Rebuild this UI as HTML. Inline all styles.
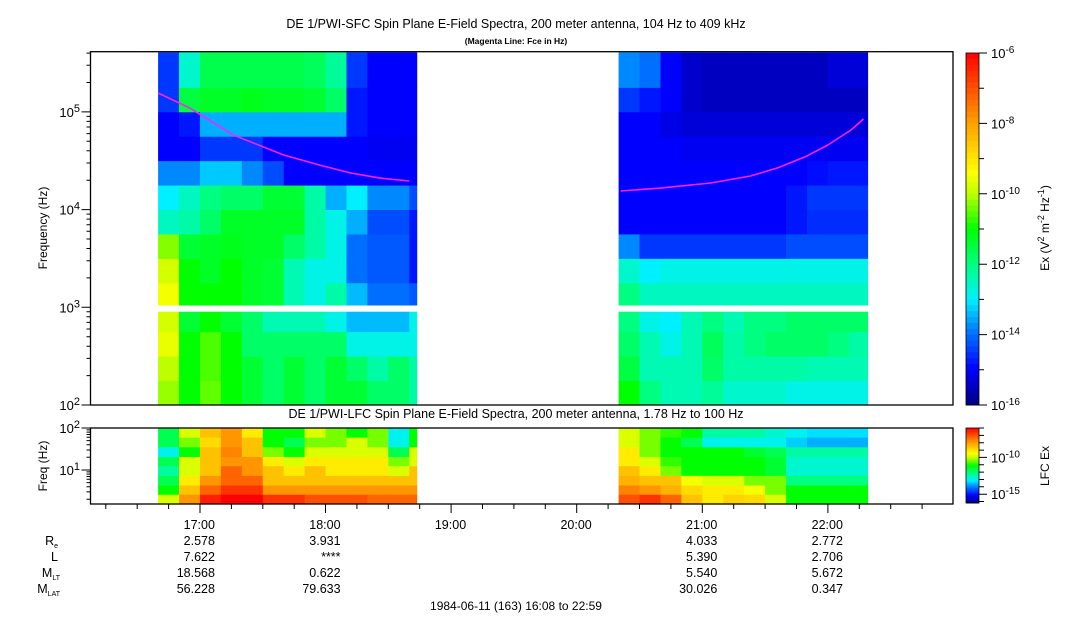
<!DOCTYPE html>
<html><head><meta charset="utf-8"><style>
html,body{margin:0;padding:0;background:#fff;}
svg{display:block;font-family:"Liberation Sans",Arial,sans-serif;}
</style></head><body>
<svg id="chart" width="1083" height="620" viewBox="0 0 1083 620">
<text x="516" y="28" font-size="12.5" text-anchor="middle">DE 1/PWI-SFC  Spin Plane E-Field Spectra, 200 meter antenna, 104 Hz to 409 kHz</text>
<text x="516" y="44" font-size="8.5" font-weight="bold" text-anchor="middle">(Magenta Line: Fce in Hz)</text>
<text x="516" y="418" font-size="12.5" text-anchor="middle">DE 1/PWI-LFC  Spin Plane E-Field Spectra, 200 meter antenna, 1.78 Hz to 100 Hz</text>
<g id="sfc"></g>
<g id="lfc"></g>
<g id="axes"></g>
<text transform="translate(47,228) rotate(-90)" font-size="12" text-anchor="middle">Frequency (Hz)</text>
<text transform="translate(47,466) rotate(-90)" font-size="12" text-anchor="middle">Freq (Hz)</text>
<text transform="translate(1049,228) rotate(-90)" font-size="12" text-anchor="middle">Ex (V<tspan dy="-5" font-size="9">2</tspan><tspan dy="5"> m</tspan><tspan dy="-5" font-size="9">-2</tspan><tspan dy="5"> Hz</tspan><tspan dy="-5" font-size="9">-1</tspan><tspan dy="5">)</tspan></text>
<text transform="translate(1049,466) rotate(-90)" font-size="12" text-anchor="middle">LFC Ex</text>
<text x="516" y="610" font-size="12" text-anchor="middle">1984-06-11 (163) 16:08 to 22:59</text>
</svg>
<script>
// ---- data ----
const sfcRowEdges = [2.0,2.25,2.5,2.75,2.98,3.25,3.5,3.75,4.0,4.25,4.5,4.75,5.0,5.25,5.61];
const block1Start = "16:40", block1End = "18:43.6";
const block2Start = "20:20", block2End = "22:19";
// rows r0(low)..r13(high), one array per 10-minute column (log10 V^2 m^-2 Hz^-1)
const sfcBlock1 = [
 [-10.2,-10,-9.6,-9.8,-9.5,-9.8,-10.3,-12.5,-13,-13.8,-15,-15,-14.5,-14.5],
 [-11,-11,-11,-11.4,-11,-11,-11.4,-12.3,-12.5,-13.8,-15,-14.8,-11.5,-12.6],
 [-10.5,-10.6,-10.6,-11,-11,-11.3,-11.3,-11.8,-12,-13.3,-14.5,-13.5,-11.3,-11.6],
 [-11,-11,-11,-11.4,-11,-11,-11.2,-11.3,-11.8,-13.3,-14.5,-13.5,-11.3,-11.6],
 [-11.4,-11.4,-11.8,-11.8,-11.3,-11.3,-11.3,-11.3,-11.8,-13.8,-14.5,-13.5,-11.2,-11.6],
 [-11.8,-11.8,-11.8,-12.4,-11.4,-11.4,-11.3,-11.3,-11.4,-14.3,-15,-13.5,-11.3,-11.6],
 [-11.4,-11.4,-11.8,-12.4,-12.4,-12.4,-11.8,-11.3,-11.4,-15,-15,-13.5,-11.3,-11.6],
 [-11.8,-11.8,-11.8,-12.4,-12.8,-12.8,-12.3,-12.3,-12.3,-15,-15,-13.5,-11.4,-11.7],
 [-11.4,-11.4,-11.8,-12.8,-12.3,-12.8,-12.8,-12.8,-13.5,-15,-15,-13.5,-11.8,-12.2],
 [-11.4,-11.8,-12.8,-13.4,-13.4,-14,-14,-13.5,-13,-15,-15,-14.8,-14.8,-14.5],
 [-11.8,-12.3,-12.8,-13.4,-14,-14.2,-14.2,-14.3,-13.8,-15,-15.1,-15,-15,-15],
 [-11.8,-11.8,-12.8,-13.4,-14,-14.2,-14.2,-14.3,-13.8,-15,-15.1,-15,-15,-15],
 [-12.3,-12.3,-12.8,-12.8,-14.2,-14.8,-14.8,-14.8,-14.3,-15,-15.1,-15,-15,-15]
];
const sfcBlock2 = [
 [-11,-11.5,-11.8,-12,-12,-12.6,-13.8,-15,-15,-15,-15,-15,-14.5,-13.8],
 [-12,-12.4,-12.4,-12.8,-12.5,-13,-14.5,-15,-15,-15,-15,-15,-14.8,-14],
 [-12.4,-12.4,-12.8,-13,-12.5,-12.8,-14.5,-15,-15,-15,-15,-15.2,-15,-15],
 [-12.4,-12.4,-12.4,-12.4,-12.5,-12.8,-14.5,-15,-15,-15,-15.1,-15.3,-15.4,-15.4],
 [-12.2,-11.8,-11.7,-12,-12.5,-12.8,-14.5,-15,-15,-15,-15.1,-15.3,-15.5,-15.5],
 [-12.6,-12.3,-12.3,-12.4,-12.5,-12.8,-14.5,-15,-15,-15,-15.1,-15.3,-15.5,-15.5],
 [-12.6,-12.3,-12,-12,-12.5,-12.8,-14.5,-15,-15,-15,-15.1,-15.3,-15.5,-15.5],
 [-12.6,-12.3,-11.8,-12,-12.5,-12.8,-14.5,-15,-15,-15,-15.1,-15.3,-15.5,-15.5],
 [-12.8,-12.3,-11.8,-11.8,-12.5,-12.8,-14.3,-14.8,-14.8,-15,-15.1,-15.3,-15.5,-15.5],
 [-12.8,-12.4,-11.8,-11.8,-12.5,-12.8,-14.3,-14.6,-14.5,-14.9,-15.1,-15.3,-15.5,-15.5],
 [-12.8,-12.4,-12,-11.8,-12.5,-12.8,-14.3,-14.6,-14.5,-14.8,-15.1,-15.3,-15.5,-15.3],
 [-12.8,-12.4,-12.3,-11.8,-12.5,-12.8,-14.3,-14.6,-14.5,-14.8,-15.1,-15.3,-15.5,-15.3]
];
const lfcRowEdges = [0.19,0.42,0.64,0.87,1.1,1.32,1.55,1.78,2.0];
const lfcBlock1 = [
 [-11,-12,-12.5,-13,-12.5,-13.5,-12.5,-12.5],
 [-9.5,-10,-10.5,-11,-11,-12,-11.5,-11],
 [-8.3,-9,-9.5,-10,-10,-10,-10.3,-10],
 [-8,-8.5,-9,-9,-9.5,-9.3,-9.5,-9.5],
 [-8,-8.5,-9,-9.5,-9.5,-10,-10,-10.5],
 [-8.5,-9.5,-10,-10,-10.5,-11.5,-12,-12],
 [-8.5,-9.5,-10,-10.5,-11,-12,-12.5,-12],
 [-8.8,-9.5,-10,-10,-10.5,-11,-11.5,-11],
 [-8.8,-9.5,-10,-10.5,-10.5,-11,-11.5,-11.5],
 [-8.8,-9.5,-10,-10.5,-10.5,-11,-11,-12],
 [-9,-9.5,-10,-10.5,-10.5,-11,-11.5,-11.5],
 [-9,-9.5,-10,-11,-11.5,-12.5,-13.5,-13.5],
 [-9,-9.5,-10,-10,-11,-11,-12,-12]
];
const lfcBlock2 = [
 [-8.8,-9.3,-9.8,-10,-10.5,-10.5,-11,-11],
 [-8.5,-9.5,-10,-10.5,-11,-11.5,-11.5,-11.5],
 [-9,-9.8,-10,-11.5,-11.8,-12,-12,-11.8],
 [-10,-10.3,-10.8,-12,-12,-12,-12.5,-12],
 [-10.5,-10.5,-11,-12,-12,-12,-13.5,-13],
 [-10.2,-10.5,-11,-12,-12,-12,-13.5,-13],
 [-10.3,-10.8,-11.5,-12,-12,-12.3,-13.5,-13],
 [-11,-11.5,-11.5,-12.3,-12.3,-12.5,-13.5,-13.3],
 [-12,-12,-12.8,-13.3,-13.3,-13,-13.8,-13.5],
 [-12,-12,-12.8,-13.3,-13.3,-13,-14,-13.7],
 [-12,-12,-12.8,-13.3,-13.3,-13,-14,-13.7],
 [-12,-12,-12.8,-13.3,-13.3,-13,-14,-13.7]
];
const fce1Times = ["16:40","16:55","17:16","17:40","17:57","18:12","18:26","18:40"];
const fce1Hz = [156000,110000,58000,36200,28600,23700,21000,19600];
const fce2Times = ["20:21","20:40","21:04","21:23","21:36","21:49","22:00","22:11","22:17"];
const fce2Hz = [15500,16600,18700,22100,26700,34600,45800,65300,84600];
const timeTickLabels = ["17:00","18:00","19:00","20:00","21:00","22:00"];
const ephemLabels = ["Re","L","MLT","MLAT"];
const ephemCol17 = ["2.578","7.622","18.568","56.228"];
const ephemCol18 = ["3.931","****","0.622","79.633"];
const ephemCol21 = ["4.033","5.390","5.540","30.026"];
const ephemCol22 = ["2.772","2.706","5.672","0.347"];
const sfcTicks = [2,3,4,5];
const lfcTicks = [1,2];
const cbTicks = [-6,-8,-10,-12,-14,-16];
const lfcCbTicks = [-10,-15];

// ---- geometry ----
const X0=91.1, PXMIN=2.0933, T0=16*60+8;
const Y1TOP=51.7, Y1BOT=405, SFC_LO=2, DEC=97.7;
const Y2TOP=428, Y2BOT=504, LFC_LO=0.19, LFC_HI=2.0;
const PL=90.5, PR=953;
const NS="http://www.w3.org/2000/svg";
function tmin(s){const p=s.split(":");return +p[0]*60+ +p[1];}
function xOf(m){return X0+(m-T0)*PXMIN;}
function ySfc(lf){return Y1BOT-(lf-SFC_LO)*DEC;}
function yLfc(lf){return Y2BOT-(lf-LFC_LO)/(LFC_HI-LFC_LO)*(Y2BOT-Y2TOP);}
const stops=[[0,[0,0,128]],[0.1,[0,0,255]],[0.2,[0,110,255]],[0.3,[0,240,255]],[0.4,[0,255,128]],[0.5,[0,255,0]],[0.6,[190,255,0]],[0.66,[255,255,0]],[0.8,[255,160,0]],[1,[255,0,0]]];
function cmap(t){t=Math.max(0,Math.min(1,t));for(let i=1;i<stops.length;i++){if(t<=stops[i][0]){const a=stops[i-1],b=stops[i];const f=(t-a[0])/(b[0]-a[0]);const c=a[1].map((v,k)=>Math.round(v+(b[1][k]-v)*f));return `rgb(${c[0]},${c[1]},${c[2]})`;}}return "rgb(255,0,0)";}
function mk(tag,attrs,parent){const e=document.createElementNS(NS,tag);for(const k in attrs)e.setAttribute(k,attrs[k]);parent.appendChild(e);return e;}

const sfcG=document.getElementById('sfc'), lfcG=document.getElementById('lfc'), ax=document.getElementById('axes');
function drawBlock(g,data,start,end,edges,yFn,lo,hi,name){
  const s=tmin(start), e=tmin(end);
  data.forEach((col,ci)=>{
    const m0=s+ci*10, m1=Math.min(s+(ci+1)*10,e);
    const x0=xOf(m0), x1=xOf(m1);
    col.forEach((v,ri)=>{
      const ya=yFn(edges[ri+1]), yb=yFn(edges[ri]);
      const r=mk('rect',{x:x0.toFixed(2),y:ya.toFixed(2),width:(x1-x0+0.4).toFixed(2),height:(yb-ya+0.4).toFixed(2),fill:cmap((v-lo)/(hi-lo))},g);
      
      
    });
  });
}
drawBlock(sfcG,sfcBlock1,block1Start,block1End,sfcRowEdges,ySfc,-16,-6,'sfc');
drawBlock(sfcG,sfcBlock2,block2Start,block2End,sfcRowEdges,ySfc,-16,-6,'sfc');
const gap=mk('rect',{x:PL,y:305.5,width:PR-PL,height:6.2,fill:'#fff'},sfcG);


drawBlock(lfcG,lfcBlock1,block1Start,block1End,lfcRowEdges,yLfc,-16,-8,'lfc');
drawBlock(lfcG,lfcBlock2,block2Start,block2End,lfcRowEdges,yLfc,-16,-8,'lfc');

function fceLine(times,hz){
  const pts=times.map((t,i)=>xOf(tmin(t)).toFixed(1)+','+ySfc(Math.log10(hz[i])).toFixed(1)).join(' ');
  const p=mk('polyline',{points:pts,fill:'none',stroke:'#ff20ff','stroke-width':1.6,'stroke-linejoin':'round'},ax);
  
  
}
fceLine(fce1Times,fce1Hz);fceLine(fce2Times,fce2Hz);

[[Y1TOP,Y1BOT],[Y2TOP,Y2BOT]].forEach((f,i)=>{
  const r=mk('rect',{x:PL,y:f[0],width:PR-PL,height:f[1]-f[0],fill:'none',stroke:'#000','stroke-width':1.3},ax);
  
  
});
function label(x,y,exp,size){
  const t=mk('text',{x:x,y:y,'font-size':size,'text-anchor':'end'},ax);
  
  
  t.innerHTML='10<tspan dy="-5" font-size="'+(size-2)+'">'+exp+'</tspan>';
  return t;
}
let d='';
for(let dec=2;dec<=5;dec++){for(let k=1;k<=9;k++){const lf=dec+Math.log10(k);if(lf>5.61)break;const y=ySfc(lf);d+=`M${PL},${y.toFixed(1)}h${k==1?-9:-4}`;}}
sfcTicks.forEach(e=>{label(80,ySfc(e)+5,e,13);});
for(let dec=0;dec<=2;dec++){for(let k=1;k<=9;k++){const lf=dec+Math.log10(k);if(lf<LFC_LO||lf>2.001)continue;const y=yLfc(lf);d+=`M${PL},${y.toFixed(1)}h${k==1?-9:-4}`;}}
lfcTicks.forEach(e=>{label(80,yLfc(e)+5,e,13);});
for(let m=16*60+15;m<=22*60+45;m+=15){const x=xOf(m);d+=`M${x.toFixed(1)},${Y2BOT}v${m%60==0?9:5}`;}
const tp=mk('path',{d:d,stroke:'#000','stroke-width':1,fill:'none'},ax);


timeTickLabels.forEach(s=>{
  const t=mk('text',{x:xOf(tmin(s))+15,y:529,'font-size':12.5,'text-anchor':'end'},ax);
  
  
  t.textContent=s;
});
const rowsY=[545,561,577,593];
const lbl=['R<tspan dy="3" font-size="7">e</tspan>','L','M<tspan dy="3" font-size="7">LT</tspan>','M<tspan dy="3" font-size="7">LAT</tspan>'];
ephemLabels.forEach((n,i)=>{
  const t=mk('text',{x:i<2?58:60,y:rowsY[i],'font-size':12.5,'text-anchor':'end'},ax);
  
  
  t.innerHTML=lbl[i];
});
[["17:00",ephemCol17],["18:00",ephemCol18],["21:00",ephemCol21],["22:00",ephemCol22]].forEach(c=>{
  c[1].forEach((v,i)=>{
    const t=mk('text',{x:xOf(tmin(c[0]))+15,y:rowsY[i],'font-size':12.5,'text-anchor':'end'},ax);
    
    
    t.textContent=v;
  });
});
function colorbar(y0,y1,lo,hi,ticks,name,minor){
  const n=60;
  for(let i=0;i<n;i++){
    const ya=y0+(y1-y0)*i/n;
    const r=mk('rect',{x:966,y:ya.toFixed(2),width:13,height:((y1-y0)/n+0.5).toFixed(2),fill:cmap(1-(i+0.5)/n)},ax);
    
    
  }
  const fr=mk('rect',{x:966,y:y0,width:13,height:y1-y0,fill:'none',stroke:'#000','stroke-width':0.8},ax);
  
  
  let dd='';
  for(let v=Math.ceil(lo);v<=hi;v+=minor){const y=y1-(v-lo)/(hi-lo)*(y1-y0);dd+=`M979,${y.toFixed(1)}h${ticks.includes(v)?8:5}`;}
  const p=mk('path',{d:dd,stroke:'#000','stroke-width':1},ax);
  
  
  ticks.forEach(v=>{
    const y=y1-(v-lo)/(hi-lo)*(y1-y0);
    const t=mk('text',{x:991,y:y+5,'font-size':13},ax);
    
    
    t.innerHTML='10<tspan dy="-5" font-size="10">'+v+'</tspan>';
  });
}
colorbar(53,405,-16,-6,cbTicks,'sfc-colorbar',1);
colorbar(428,503,-16.2,-6,lfcCbTicks,'lfc-colorbar',1);
</script>
</body></html>
